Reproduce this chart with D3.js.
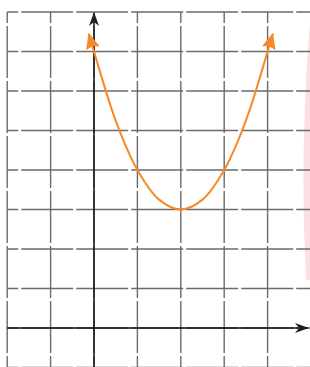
<!DOCTYPE html>
<html>
<head>
<meta charset="utf-8">
<script src="https://cdn.jsdelivr.net/npm/d3@7"></script>
<style>
  body { margin: 0; background: #fff; }
  svg { display: block; }
</style>
</head>
<body>
<div id="chart"></div>
<script>
// SVG area
var svgWidth = 310;
var svgHeight = 367;

// grid lines (units)
var gridXTicks = [-2, -1, 0, 1, 2, 3, 4, 5];
var gridYTicks = [-1, 0, 1, 2, 3, 4, 5, 6, 7, 8];

// parabola points
var curveX = [-0.12, 0, 0.5, 1, 1.5, 2, 2.5, 3, 3.5, 4, 4.12];
var curveY = [7.45, 7, 5.25, 4, 3.25, 3, 3.25, 4, 5.25, 7, 7.45];

var xScale = d3.scaleLinear().domain([-2, 5]).range([7.2, 311]);
var yScale = d3.scaleLinear().domain([-1, 8]).range([367.5, 12]);

var svg = d3.select("#chart")
  .append("svg")
  .attr("width", svgWidth)
  .attr("height", svgHeight);

// arrow markers
var defs = svg.append("defs");
defs.append("marker")
  .attr("id", "axisArrow")
  .attr("viewBox", "0 0 14 10")
  .attr("refX", 13)
  .attr("refY", 5)
  .attr("markerWidth", 14)
  .attr("markerHeight", 10)
  .attr("markerUnits", "userSpaceOnUse")
  .attr("orient", "auto")
  .append("path")
  .attr("d", "M0,0 L14,5 L0,10 L4,5 Z")
  .attr("fill", "#222");

defs.append("marker")
  .attr("id", "curveArrow")
  .attr("viewBox", "0 0 16 14")
  .attr("refX", 15)
  .attr("refY", 7)
  .attr("markerWidth", 16)
  .attr("markerHeight", 14)
  .attr("markerUnits", "userSpaceOnUse")
  .attr("orient", "auto-start-reverse")
  .append("path")
  .attr("d", "M0,0 L16,7 L0,14 L2,7 Z")
  .attr("fill", "#f7892b");

// pink smudge at right edge
svg.append("path")
  .attr("d", "M311,10 Q299,145 306,280 L311,280 Z")
  .attr("fill", "#fbdfe2");

// grid
var grid = svg.append("g")
  .attr("stroke", "#6b6b6b")
  .attr("stroke-width", 1.4)
  .attr("stroke-dasharray", "52,3")
  .attr("stroke-dashoffset", -14);

grid.selectAll(".hline")
  .data(gridYTicks)
  .enter()
  .append("line")
  .attr("class", "hline")
  .attr("x1", xScale(-2))
  .attr("x2", svgWidth)
  .attr("y1", d => yScale(d))
  .attr("y2", d => yScale(d));

grid.selectAll(".vline")
  .data(gridXTicks)
  .enter()
  .append("line")
  .attr("class", "vline")
  .attr("x1", d => xScale(d))
  .attr("x2", d => xScale(d))
  .attr("y1", yScale(8))
  .attr("y2", svgHeight);

// axes
svg.append("line")
  .attr("x1", xScale(-2))
  .attr("x2", 308)
  .attr("y1", yScale(0))
  .attr("y2", yScale(0))
  .attr("stroke", "#111")
  .attr("stroke-width", 1.5)
  .attr("marker-end", "url(#axisArrow)");

svg.append("line")
  .attr("x1", xScale(0))
  .attr("x2", xScale(0))
  .attr("y1", svgHeight)
  .attr("y2", 13)
  .attr("stroke", "#111")
  .attr("stroke-width", 1.5)
  .attr("marker-end", "url(#axisArrow)");

// parabola
var pts = curveX.map((d, i) => [d, curveY[i]]);
var line = d3.line()
  .x(d => xScale(d[0]))
  .y(d => yScale(d[1]))
  .curve(d3.curveCatmullRom);

svg.append("path")
  .datum(pts)
  .attr("d", line)
  .attr("fill", "none")
  .attr("stroke", "#f7892b")
  .attr("stroke-width", 2)
  .attr("marker-start", "url(#curveArrow)")
  .attr("marker-end", "url(#curveArrow)");
</script>
</body>
</html>
